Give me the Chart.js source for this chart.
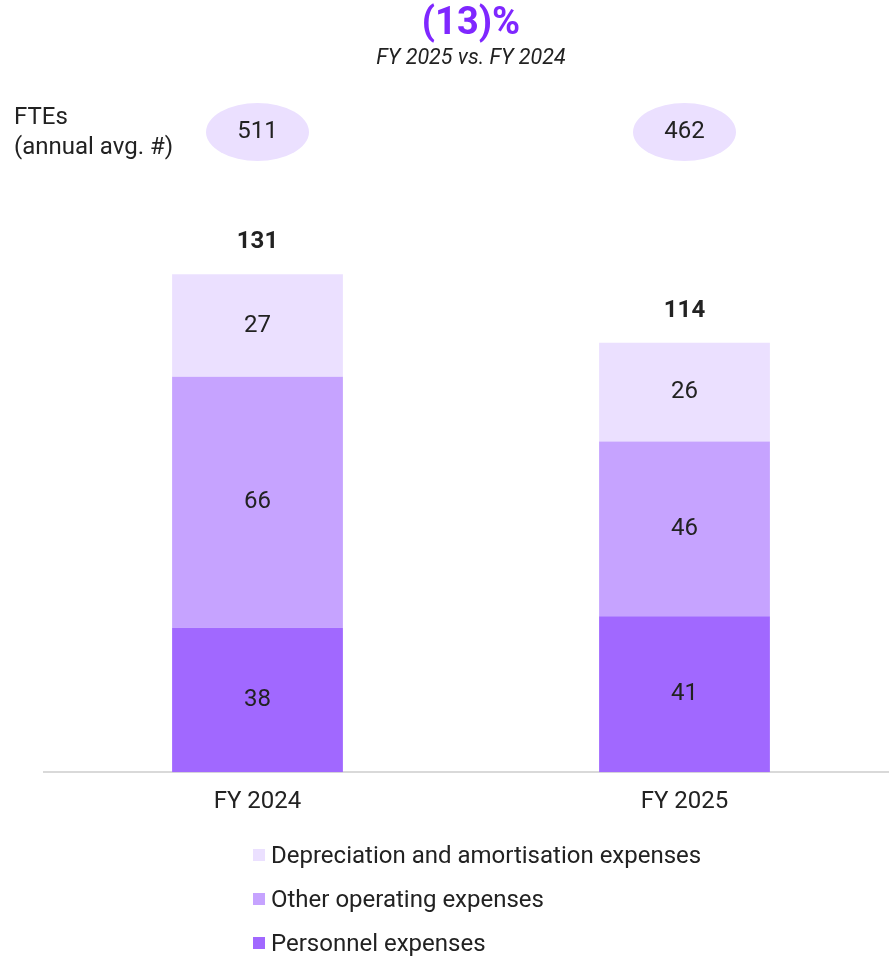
<!DOCTYPE html>
<html>
<head>
<meta charset="utf-8">
<script src="https://cdn.jsdelivr.net/npm/chart.js@4.4.1/dist/chart.umd.min.js"></script>
<style>
  html, body { margin: 0; padding: 0; background: #fff; overflow: hidden; }
  #wrap { position: relative; width: 898px; height: 957px; }
  #legend { position: absolute; left: 253px; top: 833px; font-family: Roboto, sans-serif; font-size: 24px; color: #222; }
  #legend div { height: 44px; display: flex; align-items: center; }
  #legend span.box { width: 12px; height: 12px; margin-right: 6px; display: inline-block; }
</style>
</head>
<body>
<div id="wrap">
  <canvas id="costChart" width="898" height="957"></canvas>
  <div id="legend"></div>
</div>
<script>
/* ------------------------------
   DATA
------------------------------ */
const years = ["FY 2024", "FY 2025"];
const personnel = [38, 41];
const otherOpex = [66, 46];
const depreciation = [27, 26];
const totals = [131, 114];
const ftes = [511, 462];
const changeLabel = "(13)%";
const changeSub = "FY 2025 vs. FY 2024";

const colors = {
  personnel: "#a168ff",
  other: "#c6a3ff",
  depreciation: "#ebe0ff",
  accent: "#7f27ff",
  text: "#222222"
};

/* ------------------------------
   LABELS PLUGIN
------------------------------ */
const labelPlugin = {
  id: "labels",
  afterDatasetsDraw(chart) {
    const ctx = chart.ctx;
    const x = chart.scales.x;
    ctx.save();
    ctx.textAlign = "center";
    ctx.textBaseline = "middle";
    ctx.fillStyle = colors.text;

    // segment values
    ctx.font = "24px Roboto";
    chart.data.datasets.forEach((ds, i) => {
      chart.getDatasetMeta(i).data.forEach((bar, j) => {
        const mid = (bar.y + bar.base) / 2;
        ctx.fillText(ds.data[j], bar.x, mid);
      });
    });

    // totals above the stack
    ctx.font = "bold 24px Roboto";
    const topMeta = chart.getDatasetMeta(chart.data.datasets.length - 1);
    topMeta.data.forEach((bar, j) => {
      ctx.fillText(totals[j], bar.x, bar.y - 32);
    });

    // FTE ellipses
    ftes.forEach((v, j) => {
      const cx = x.getPixelForValue(j);
      ctx.fillStyle = colors.depreciation;
      ctx.beginPath();
      ctx.ellipse(cx, 132, 51.5, 29, 0, 0, Math.PI * 2);
      ctx.fill();
      ctx.fillStyle = colors.text;
      ctx.font = "24px Roboto";
      ctx.fillText(v, cx, 132);
    });

    // FTE caption
    ctx.textAlign = "left";
    ctx.font = "24px Roboto";
    ctx.fillText("FTEs", 14, 118);
    ctx.fillText("(annual avg. #)", 14, 148);

    // headline change
    const midX = (x.getPixelForValue(0) + x.getPixelForValue(1)) / 2;
    ctx.textAlign = "center";
    ctx.fillStyle = colors.accent;
    ctx.font = "bold 38px Roboto";
    ctx.fillText(changeLabel, midX, 24);
    ctx.fillStyle = colors.text;
    ctx.font = "italic 21.5px Roboto";
    ctx.fillText(changeSub, midX, 59);
    ctx.restore();
  }
};

/* ------------------------------
   CHART
------------------------------ */
const chart = new Chart(document.getElementById("costChart"), {
  type: "bar",
  data: {
    labels: years,
    datasets: [
      { label: "Personnel expenses", data: personnel, backgroundColor: colors.personnel },
      { label: "Other operating expenses", data: otherOpex, backgroundColor: colors.other },
      { label: "Depreciation and amortisation expenses", data: depreciation, backgroundColor: colors.depreciation }
    ]
  },
  options: {
    responsive: false,
    animation: false,
    layout: { padding: { top: 202, left: 44, right: 0, bottom: 126 } },
    plugins: { legend: { display: false }, tooltip: { enabled: false } },
    datasets: { bar: { categoryPercentage: 0.8, barPercentage: 0.5, borderWidth: 0 } },
    scales: {
      x: {
        stacked: true,
        grid: { display: false, drawTicks: false },
        border: { color: "#d9d9d9", width: 2 },
        ticks: { color: colors.text, font: { family: "Roboto", size: 24 }, padding: 15 }
      },
      y: { stacked: true, display: false, min: 0, max: 150 }
    }
  },
  plugins: [labelPlugin]
});

/* ------------------------------
   LEGEND
------------------------------ */
const legend = document.getElementById("legend");
chart.data.datasets.slice().reverse().forEach(ds => {
  const row = document.createElement("div");
  row.innerHTML = `<span class="box" style="background:${ds.backgroundColor}"></span>${ds.label}`;
  legend.appendChild(row);
});
</script>
</body>
</html>
